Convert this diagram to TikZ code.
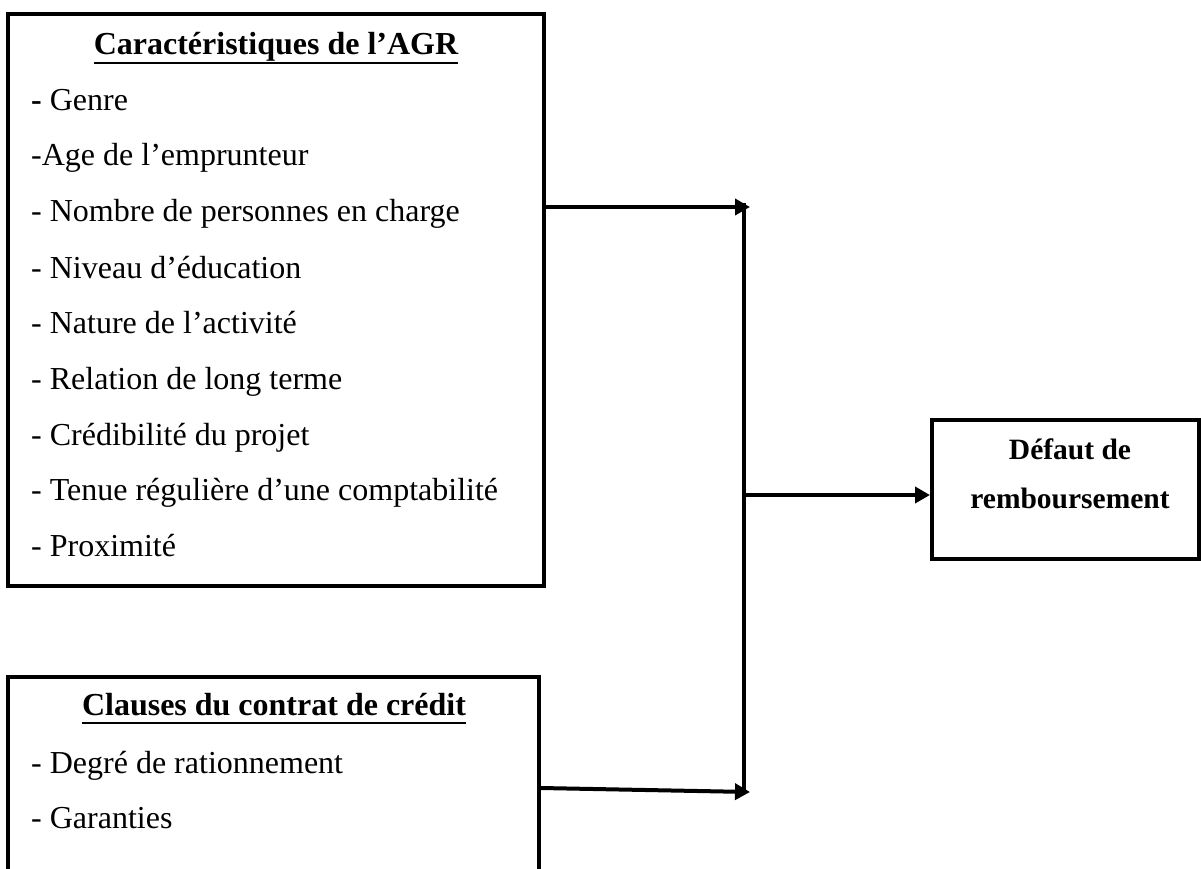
\documentclass[tikz,border=0pt]{standalone}
\usepackage{fontspec}
\setmainfont{Liberation Serif}
\usetikzlibrary{arrows.meta}
\begin{document}
\begin{tikzpicture}[x=1pt,y=-1pt,
  box/.style={draw, line width=4pt, rectangle, inner sep=0pt},
  txt/.style={anchor=base west, inner sep=0pt, font=\fontsize{32}{38}\selectfont},
  ttl/.style={anchor=base, inner sep=0pt, font=\fontsize{32}{38}\selectfont\bfseries},
  dtl/.style={anchor=base, inner sep=0pt, font=\fontsize{29.5}{35}\selectfont\bfseries},
  conn/.style={line width=4pt},
  arr/.style={conn, -{Triangle[length=15pt,width=16pt]}},
  uline/.style={line width=2.2pt}]
\useasboundingbox (0,0) rectangle (1201,869);
\clip (0,0) rectangle (1201,869);
% boxes
\node[box, minimum width=536pt, minimum height=572pt] (box1) at (276,300) {};
\node[box, minimum width=531pt, minimum height=240pt] (box2) at (273.5,797) {};
\node[box, minimum width=267pt, minimum height=139pt] (def) at (1065.5,489.5) {};
% box 1 text
\node[ttl] (t1) at (276,55) {Caractéristiques de l’AGR};
\draw[uline] ([yshift=-8pt]t1.base west) -- ([yshift=-8pt]t1.base east);
\node[txt] (i1) at (31,111) {\textbf{-} Genre};
\node[txt] (i2) at (31,166) {-Age de l’emprunteur};
\node[txt] (i3) at (31,222) {- Nombre de personnes en charge};
\node[txt] (i4) at (31,278) {- Niveau d’éducation};
\node[txt] (i5) at (31,333) {- Nature de l’activité};
\node[txt] (i6) at (31,389) {- Relation de long terme};
\node[txt] (i7) at (31,445) {- Crédibilité du projet};
\node[txt] (i8) at (31,500) {- Tenue régulière d’une comptabilité};
\node[txt] (i9) at (31,556) {- Proximité};
% box 2 text
\node[ttl] (t2) at (274,715) {Clauses du contrat de crédit};
\draw[uline] ([yshift=-8pt]t2.base west) -- ([yshift=-8pt]t2.base east);
\node[txt] (c1) at (31,773) {- Degré de rationnement};
\node[txt] (c2) at (31,828) {- Garanties};
% target text
\node[dtl] (d1) at (1070,459) {Défaut de};
\node[dtl] (d2) at (1070,508) {remboursement};
% connectors
\coordinate (jt) at (744,207);
\coordinate (jb) at (744,792);
\coordinate (jm) at (744,495);
\coordinate (y788) at (0,788);
\draw[arr] (box1.east |- jt) -- ([xshift=6pt]jt);
\draw[conn] ([yshift=4pt]jt) -- (jb);
\draw[arr] (box2.east |- y788) -- ([xshift=6pt]jb);
\draw[arr] (jm) -- (def.west |- jm);
\end{tikzpicture}
\end{document}
